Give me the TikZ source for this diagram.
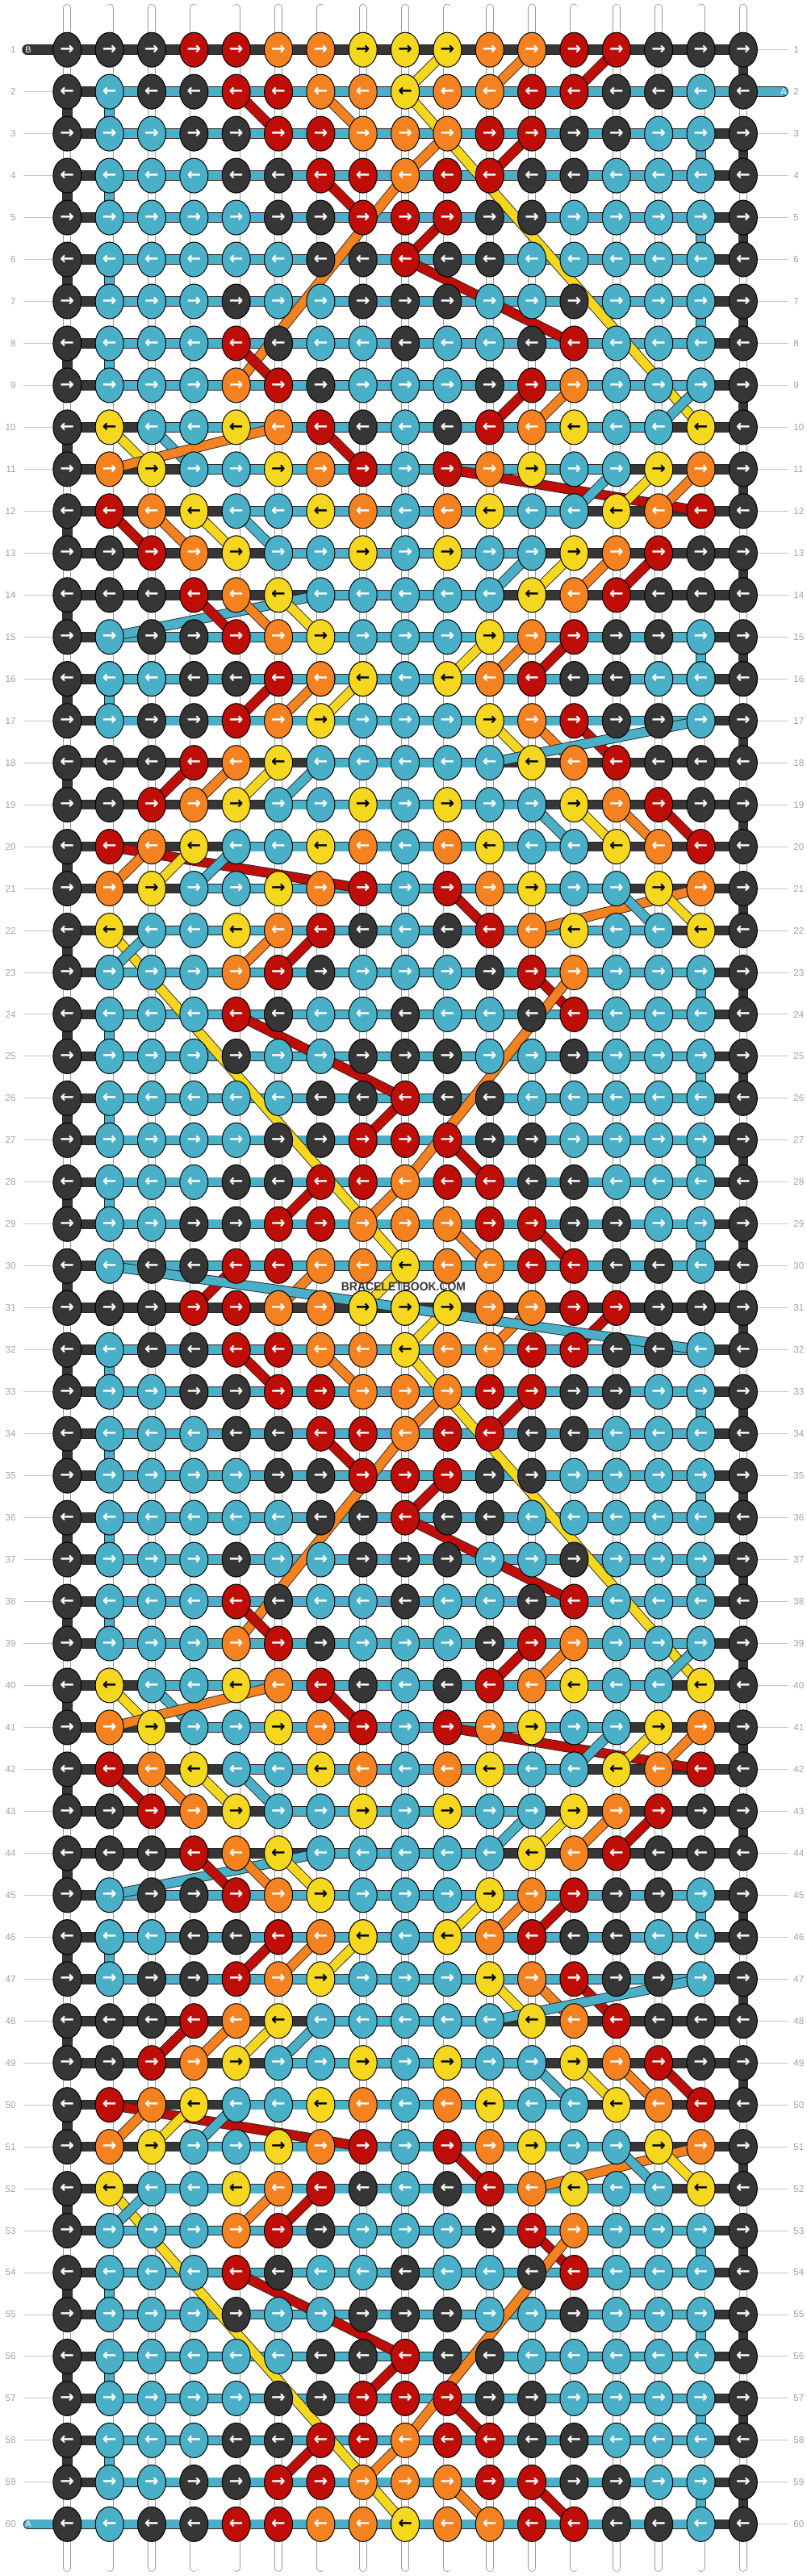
\documentclass[tikz,border=0pt]{standalone}
\usepackage{fontspec}
\usepackage{graphicx}
\setmainfont{Liberation Sans}
\newfontfamily\arrowfont{DejaVu Sans}
\usetikzlibrary{shapes.geometric}

\definecolor{kD}{HTML}{363636}
\definecolor{kC}{HTML}{4AB0C8}
\definecolor{kR}{HTML}{BF0D08}
\definecolor{kO}{HTML}{F58220}
\definecolor{kY}{HTML}{F4D71E}
\colorlet{aD}{white}
\colorlet{aC}{white}
\colorlet{aR}{white}
\colorlet{aO}{white}
\colorlet{aY}{black}
\definecolor{rowgray}{HTML}{A0A0A0}
\definecolor{basegray}{HTML}{9A9A9A}

\pgfdeclarelayer{base}
\pgfdeclarelayer{strands}
\pgfdeclarelayer{top}
\pgfsetlayers{base,strands,main,top}

\tikzset{
  knot/.style={ellipse, draw=black, line width=0.5pt, minimum width=17.5pt,
    minimum height=21.5pt, inner sep=0pt,
    font=\arrowfont\bfseries\fontsize{10.5}{10.5}\selectfont},
  strand/.style={draw=black!85, line width=0.45pt, double=#1, double distance=5.4pt},
  basestring/.style={draw=basegray, line width=0.4pt, double=white,
    double distance=4.2pt, line cap=round},
  rowno/.style={text=rowgray, font=\fontsize{5.8}{6}\selectfont, inner sep=0pt},
  tick/.style={draw=rowgray!60, line width=0.5pt},
  tablabel/.style={text=white, font=\fontsize{5.5}{6}\selectfont, inner sep=0pt}
}

\begin{document}
\begin{tikzpicture}[x=26.175pt, y=-25.985pt]
\useasboundingbox (-0.5912,-0.1872) rectangle (18.5110,61.2350);

% knots: rows 1-16, the rest repeat mirrored
\foreach \r/\pat in {
  1/{D,D,D,R,R,O,O,Y,Y,Y,O,O,R,R,D,D,D},
  2/{D,C,D,D,R,R,O,O,Y,O,O,R,R,D,D,C,D},
  3/{D,C,C,D,D,R,R,O,O,O,R,R,D,D,C,C,D},
  4/{D,C,C,C,D,D,R,R,O,R,R,D,D,C,C,C,D},
  5/{D,C,C,C,C,D,D,R,R,R,D,D,C,C,C,C,D},
  6/{D,C,C,C,C,C,D,D,R,D,D,C,C,C,C,C,D},
  7/{D,C,C,C,D,C,C,D,D,D,C,C,D,C,C,C,D},
  8/{D,C,C,C,R,D,C,C,D,C,C,D,R,C,C,C,D},
  9/{D,C,C,C,O,R,D,C,C,C,D,R,O,C,C,C,D},
  10/{D,Y,C,C,Y,O,R,D,C,D,R,O,Y,C,C,Y,D},
  11/{D,O,Y,C,C,Y,O,R,C,R,O,Y,C,C,Y,O,D},
  12/{D,R,O,Y,C,C,Y,O,C,O,Y,C,C,Y,O,R,D},
  13/{D,D,R,O,Y,C,C,Y,C,Y,C,C,Y,O,R,D,D},
  14/{D,D,D,R,O,Y,C,C,C,C,C,Y,O,R,D,D,D},
  15/{D,C,D,D,R,O,Y,C,C,C,Y,O,R,D,D,C,D},
  16/{D,C,C,D,D,R,O,Y,C,Y,O,R,D,D,C,C,D}}{
  \foreach \x in {\r,32-\r,\r+30,62-\r}{
    \pgfmathtruncatemacro\row{\x}
    \ifnum\row<61
      \foreach \k [count=\c] in \pat
        \node[knot, fill=k\k, text=a\k] (k-\c-\row) at (\c,\row) {\ifodd\row →\else ←\fi};
    \fi
  }
}

% row numbers
\foreach \row in {1,...,60}{
  \node[rowno, anchor=east] (ln-\row) at (-0.209,\row) {\row};
  \node[rowno, anchor=west] (rn-\row) at (18.186,\row) {\row};
  \coordinate (lt-\row) at (-0.037,\row);
  \coordinate (rt-\row) at (18.07,\row);
}
\foreach \row in {2,...,59} \draw[tick] (lt-\row) -- (k-1-\row);
\draw[tick] (rt-1) -- (k-17-1);
\foreach \row in {3,...,60} \draw[tick] (k-17-\row) -- (rt-\row);

% base strings
\foreach \c in {1,...,17}{
  \coordinate (top-\c) at (\c,0);
  \coordinate (bot-\c) at (\c,61.04);
}
\begin{pgfonlayer}{base}
  \foreach \c in {1,...,17} \draw[basestring] (top-\c) -- (bot-\c);
\end{pgfonlayer}

\begin{pgfonlayer}{strands}
  % string B turning at the edges
  \foreach \row in {1,...,59}{
    \pgfmathtruncatemacro\nx{\row+1}
    \ifodd\row \def\ec{17}\else\def\ec{1}\fi
    \draw[strand=kD] (k-\ec-\row.center) -- (k-\ec-\nx.center);
  }
  % string A turning at columns 2 and 16
  \foreach \r/\c in {2/2,3/16,4/2,5/16,6/2,7/16,8/2,15/16,16/2,
                     23/16,24/2,25/16,26/2,27/16,28/2,29/16}{
    \foreach \dr in {0,30}{
      \pgfmathtruncatemacro\ra{\r+\dr}
      \pgfmathtruncatemacro\rb{\r+\dr+1}
      \draw[strand=kC] (k-\c-\ra.center) -- (k-\c-\rb.center);
    }
  }
  % rows: B all across, A over it
  \foreach \row in {1,...,60} \draw[strand=kD] (k-1-\row.center) -- (k-17-\row.center);
  \foreach \r/\lo/\hi in {2/2/16,3/2/16,4/2/16,5/2/16,6/2/16,7/2/16,8/2/16,9/2/16,
      10/3/15,11/4/14,12/5/13,13/6/12,14/7/11,15/2/16,16/2/16,17/2/16,
      18/7/11,19/6/12,20/5/13,21/4/14,22/3/15,23/2/16,24/2/16,25/2/16,
      26/2/16,27/2/16,28/2/16,29/2/16,30/2/16}{
    \foreach \dr in {0,30}{
      \pgfmathtruncatemacro\row{\r+\dr}
      \draw[strand=kC] (k-\lo-\row.center) -- (k-\hi-\row.center);
    }
  }
  % tabs
  \coordinate (tabB) at (0.05,1);
  \coordinate (tabA) at (17.95,2);
  \coordinate (tabZ) at (0.08,60);
  \draw[strand=kD, line cap=round] (k-1-1.center) -- (tabB);
  \draw[strand=kC, line cap=round] (k-16-2.center) -- (tabA);
  \draw[strand=kC, line cap=round] (k-2-60.center) -- (tabZ);
  % strings moving between rows
  \foreach \k/\ra/\ca/\rb/\cb in {
      Y/1/10/2/9, O/1/12/2/11, R/1/14/2/13,
      R/2/5/3/6, O/2/7/3/8, Y/2/9/10/16,
      O/3/10/4/9, R/3/12/4/11,
      R/4/7/5/8, O/4/9/9/5,
      R/5/10/6/9, R/6/9/8/13, R/8/5/9/6,
      R/9/12/10/11, O/9/13/10/12, C/9/16/10/15,
      Y/10/2/11/3, C/10/3/11/4, O/10/6/11/2, R/10/7/11/8,
      R/11/10/12/16, C/11/14/12/13, Y/11/15/12/14, O/11/16/12/15,
      R/12/2/13/3, O/12/3/13/4, Y/12/4/13/5, C/12/5/13/6,
      C/13/12/14/11, Y/13/13/14/12, O/13/14/14/13, R/13/15/14/14,
      C/14/7/15/2, R/14/4/15/5, O/14/5/15/6, Y/14/6/15/7,
      Y/15/11/16/10, O/15/12/16/11, R/15/13/16/12,
      R/16/6/17/5, O/16/7/17/6, Y/16/8/17/7,
      Y/17/11/18/12, O/17/12/18/13, R/17/13/18/14, C/17/16/18/11,
      R/18/4/19/3, O/18/5/19/4, Y/18/6/19/5, C/18/7/19/6,
      C/19/12/20/13, Y/19/13/20/14, O/19/14/20/15, R/19/15/20/16,
      R/20/2/21/8, O/20/3/21/2, Y/20/4/21/3, C/20/5/21/4,
      R/21/10/22/11, O/21/16/22/12, C/21/14/22/15, Y/21/15/22/16,
      Y/22/2/30/9, C/22/3/23/2, O/22/6/23/5, R/22/7/23/6,
      R/23/12/24/13, O/23/13/28/9,
      R/24/5/26/9, R/26/9/27/8, R/27/10/28/11,
      R/28/7/29/6, O/28/9/29/8,
      O/29/10/30/11, R/29/12/30/13}{
    \foreach \dr in {0,30}{
      \pgfmathtruncatemacro\rx{\ra+\dr}
      \pgfmathtruncatemacro\ry{\rb+\dr}
      \draw[strand=k\k] (k-\ca-\rx.center) -- (k-\cb-\ry.center);
    }
  }
  \draw[strand=kR] (k-5-30.center) -- (k-4-31.center);
  \draw[strand=kO] (k-7-30.center) -- (k-6-31.center);
  \draw[strand=kY] (k-9-30.center) -- (k-8-31.center);
  \draw[strand=kC] (k-2-30.center) -- (k-16-32.center);
\end{pgfonlayer}

\node[tablabel] (labB) at (0.077,1) {B};
\node[tablabel] (labA) at (17.96,2) {A};
\node[tablabel] (labZ) at (0.077,60) {A};

\begin{pgfonlayer}{top}
  \node[text=kD, font=\bfseries\fontsize{7.5}{8}\selectfont, inner sep=0pt] (mark)
    at (8.96,30.5) {\scalebox{0.93}[1]{BRACELETBOOK.COM}};
\end{pgfonlayer}
\end{tikzpicture}
\end{document}
